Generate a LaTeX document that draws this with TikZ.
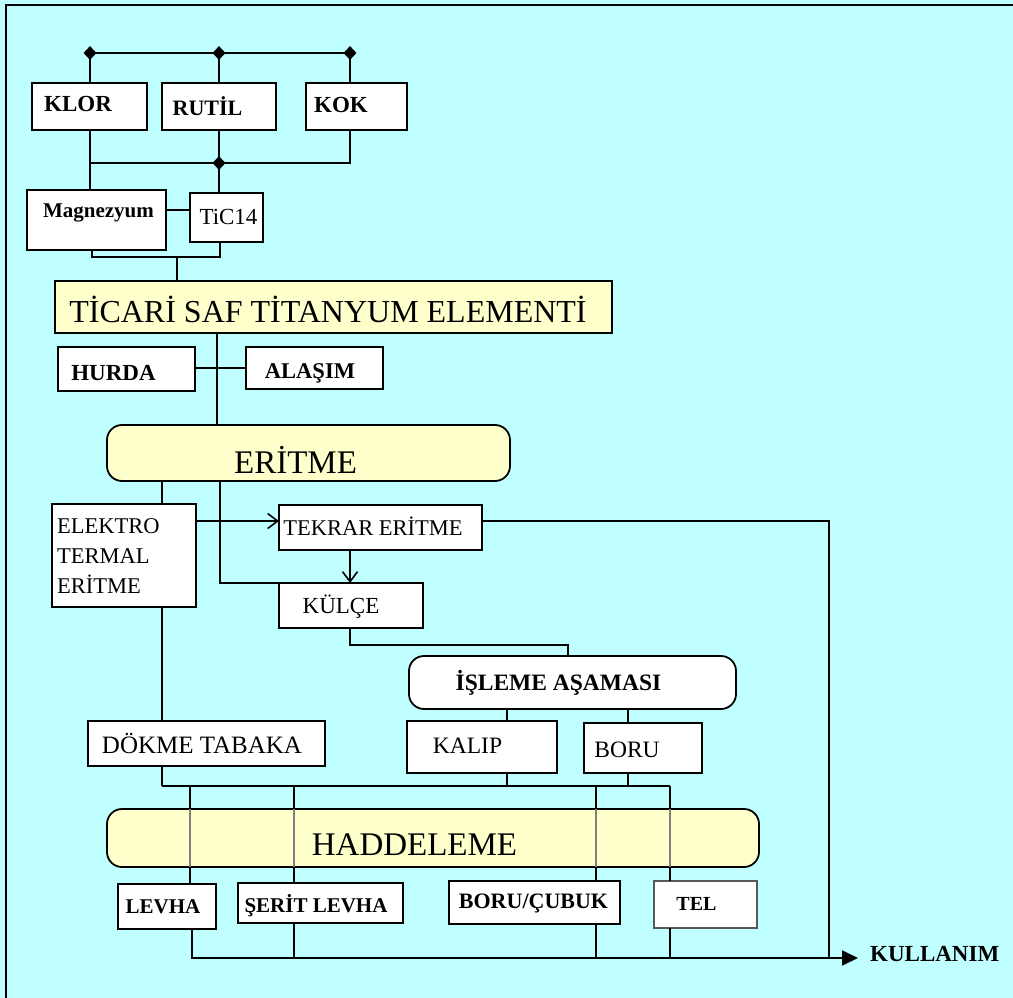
\documentclass[tikz,border=0pt]{standalone}
\usepackage{fontspec}
\setmainfont{Liberation Serif}
\usetikzlibrary{shapes.geometric,arrows.meta}
\definecolor{bgc}{RGB}{192,255,255}
\definecolor{yel}{RGB}{255,255,204}
\newcommand{\fs}[1]{\fontsize{#1}{#1}\selectfont}
\newcommand{\bx}[6]{\node[#6, minimum width={(#4-#2)*1pt}, minimum height={(#5-#3)*1pt}] (#1) at ({(#2+#4)/2},{(#3+#5)/2}) {};}
\tikzset{
  box/.style={draw, fill=white, line width=1.8pt, inner sep=0pt, outer sep=0pt},
  ybox/.style={box, fill=yel},
  rbox/.style={box, rounded corners=15pt},
  ryel/.style={rbox, fill=yel},
  lbl/.style={inner sep=0pt, anchor=base},
  lblw/.style={inner sep=0pt, anchor=base west},
  dia/.style={diamond, fill=black, inner sep=0pt, minimum width=13pt, minimum height=14pt},
  conn/.style={line width=1.8pt},
  openarrow/.style={conn, -{Straight Barb[length=10pt,width=15pt,line width=1.6pt]}},
  fillarrow/.style={conn, -{Triangle[length=16pt,width=15pt]}}
}
\begin{document}
\begin{tikzpicture}[x=1pt,y=-1pt]
\fill[bgc] (0,0) rectangle (1013,998);
\useasboundingbox (0,0) rectangle (1013,998);
\draw[line width=2.2pt] (6,998) -- (6,5) -- (1013,5);

% boxes
\bx{klor}{32}{83}{147}{130}{box}
\bx{rutil}{162}{83}{276}{130}{box}
\bx{kok}{306}{83}{407}{130}{box}
\bx{magn}{27}{190}{166}{250}{box}
\bx{ticl}{190}{193}{263}{242}{box}
\bx{ticari}{55}{281}{612}{333}{ybox, line width=2.2pt}
\bx{hurda}{58}{347}{195}{391}{box}
\bx{alasim}{246}{347}{383}{389}{box}
\bx{eritme}{107}{425}{510}{481}{ryel}
\bx{elektro}{52}{504}{196}{607}{box}
\bx{tekrar}{279}{505}{482}{550}{box}
\bx{kulce}{279}{583}{423}{628}{box}
\bx{islem}{409}{656}{736}{709}{rbox}
\bx{kalip}{407}{721}{557}{773}{box}
\bx{boru}{584}{723}{702}{773}{box}
\bx{dokme}{88}{721}{325}{766}{box}
\bx{hadd}{107}{809}{759}{867}{ryel}
\bx{levha}{118}{884}{216}{929}{box}
\bx{seritl}{238}{883}{403}{923}{box}
\bx{boruc}{449}{881}{620}{924}{box}
\bx{tel}{654}{881}{757}{928}{box, draw=gray!70!black}

% labels
\node[lbl, font=\fs{23}\bfseries] (klor-t) at (78,112) {KLOR};
\node[lbl, font=\fs{22}\bfseries] (rutil-t) at (207.5,115) {RUTİL};
\node[lbl, font=\fs{23}\bfseries] (kok-t) at (341,113) {KOK};
\node[lbl, font=\fs{21}\bfseries] (magn-t) at (98.5,217) {Magnezyum};
\node[lbl, font=\fs{23}] (ticl-t) at (228.5,224) {TiC14};
\node[lbl, font=\fs{32}] (ticari-t) at (328,322) {TİCARİ SAF TİTANYUM ELEMENTİ};
\node[lbl, font=\fs{23}\bfseries] (hurda-t) at (113.5,380) {HURDA};
\node[lbl, font=\fs{22.5}\bfseries] (alasim-t) at (310,378) {ALAŞIM};
\node[lbl, font=\fs{33}] (eritme-t) at (295.5,473) {ERİTME};
\node[lblw, font=\fs{22.5}] (elektro-t1) at (57,533) {ELEKTRO};
\node[lblw, font=\fs{22.5}] (elektro-t2) at (57,563) {TERMAL};
\node[lblw, font=\fs{22.5}] (elektro-t3) at (57,593) {ERİTME};
\node[lbl, font=\fs{22.5}] (tekrar-t) at (373,535) {TEKRAR ERİTME};
\node[lbl, font=\fs{23}] (kulce-t) at (341,613) {KÜLÇE};
\node[lbl, font=\fs{23.5}\bfseries] (islem-t) at (558.5,690) {İŞLEME AŞAMASI};
\node[lbl, font=\fs{23.5}] (kalip-t) at (467.5,753) {KALIP};
\node[lbl, font=\fs{23.5}] (boru-t) at (627,757) {BORU};
\node[lbl, font=\fs{25}] (dokme-t) at (202,753) {DÖKME TABAKA};
\node[lbl, font=\fs{33}] (hadd-t) at (414.5,855) {HADDELEME};
\node[lbl, font=\fs{21}\bfseries] (levha-t) at (163,913) {LEVHA};
\node[lbl, font=\fs{21}\bfseries] (seritl-t) at (316,912) {ŞERİT LEVHA};
\node[lbl, font=\fs{22}\bfseries] (boruc-t) at (533.5,908) {BORU/ÇUBUK};
\node[lbl, font=\fs{20}\bfseries] (tel-t) at (696.5,910) {TEL};
\node[anchor=base west, inner ysep=0pt, inner xsep=12pt, font=\fs{23}\bfseries] (kul) at (858,961) {KULLANIM};

% junction diamonds
\node[dia] (dk) at (90,53) {};
\node[dia] (dr) at (219,53) {};
\node[dia] (dc) at (350,53) {};
\node[dia] (dm) at (219,163) {};

% helper coordinates
\coordinate (j2a) at (92,257);
\coordinate (j2b) at (220,257);
\coordinate (j2) at (177,257);
\coordinate (s1) at (217,0);
\coordinate (e1) at (162,0);
\coordinate (e2) at (220,0);
\coordinate (e3) at (350,0);
\coordinate (ya) at (0,521);
\coordinate (yh) at (0,368);
\coordinate (ym) at (0,210);
\coordinate (j3) at (568,645);
\coordinate (e4) at (507,0);
\coordinate (e5) at (628,0);
\coordinate (j4) at (162,786);
\coordinate (j5) at (670,786);
\coordinate (b1) at (190,0);
\coordinate (b2) at (294,0);
\coordinate (b3) at (596,0);
\coordinate (b4) at (670,0);
\coordinate (c1) at (192,0);
\coordinate (yb) at (0,958);
\coordinate (j6) at (829,958);

% connectors
\begin{scope}[conn]
\draw (dk.center) -- (dc.center);
\draw (dk.center) -- (dk.center |- klor.north);
\draw (dr.center) -- (rutil.north -| dr.center);
\draw (dc.center) -- (kok.north -| dc.center);
\draw (klor.south -| dk.center) -- (dk.center |- magn.north);
\draw (dk.center |- dm.center) -- (dm.center) -| (kok.south -| dc.center);
\draw (rutil.south -| dm.center) -- (ticl.north -| dm.center);
\draw (magn.east |- ym) -- (ticl.west |- ym);
\draw (magn.south -| j2a) -- (j2a) -- (j2b) -- (ticl.south -| j2b);
\draw (j2) -- (ticari.north -| j2);
\draw (ticari.south -| s1) -- (eritme.north -| s1);
\draw (hurda.east |- yh) -- (alasim.west |- yh);
\draw (eritme.south -| e1) -- (elektro.north -| e1);
\draw (elektro.south -| e1) -- (dokme.north -| e1);
\draw (dokme.south -| e1) -- (j4);
\draw (eritme.south -| e2) |- (kulce.north west);
\draw[openarrow] (elektro.east |- ya) -- (tekrar.west |- ya);
\draw[openarrow] (tekrar.south -| e3) -- (kulce.north -| e3);
\draw (kulce.south -| e3) |- (j3) -- (islem.north -| j3);
\draw (islem.south -| e4) -- (kalip.north -| e4);
\draw (islem.south -| e5) -- (boru.north -| e5);
\draw (kalip.south -| e4) -- (e4 |- j4);
\draw (boru.south -| e5) -- (e5 |- j4);
\draw (j4) -- (j5);
\draw (j4 -| b1) -- (levha.north -| b1);
\draw (j4 -| b2) -- (seritl.north -| b2);
\draw (j4 -| b3) -- (boruc.north -| b3);
\draw (j5) -- (tel.north -| b4);
\draw[gray] (hadd.north -| b1) -- (hadd.south -| b1);
\draw[gray] (hadd.north -| b2) -- (hadd.south -| b2);
\draw[gray] (hadd.north -| b3) -- (hadd.south -| b3);
\draw[gray] (hadd.north -| b4) -- (hadd.south -| b4);
\draw (tekrar.east |- ya) -| (j6);
\draw[fillarrow] (levha.south -| c1) |- (kul.west |- yb);
\draw (seritl.south -| b2) -- (b2 |- yb);
\draw (boruc.south -| b3) -- (b3 |- yb);
\draw (tel.south -| b4) -- (b4 |- yb);
\end{scope}
\end{tikzpicture}
\end{document}
